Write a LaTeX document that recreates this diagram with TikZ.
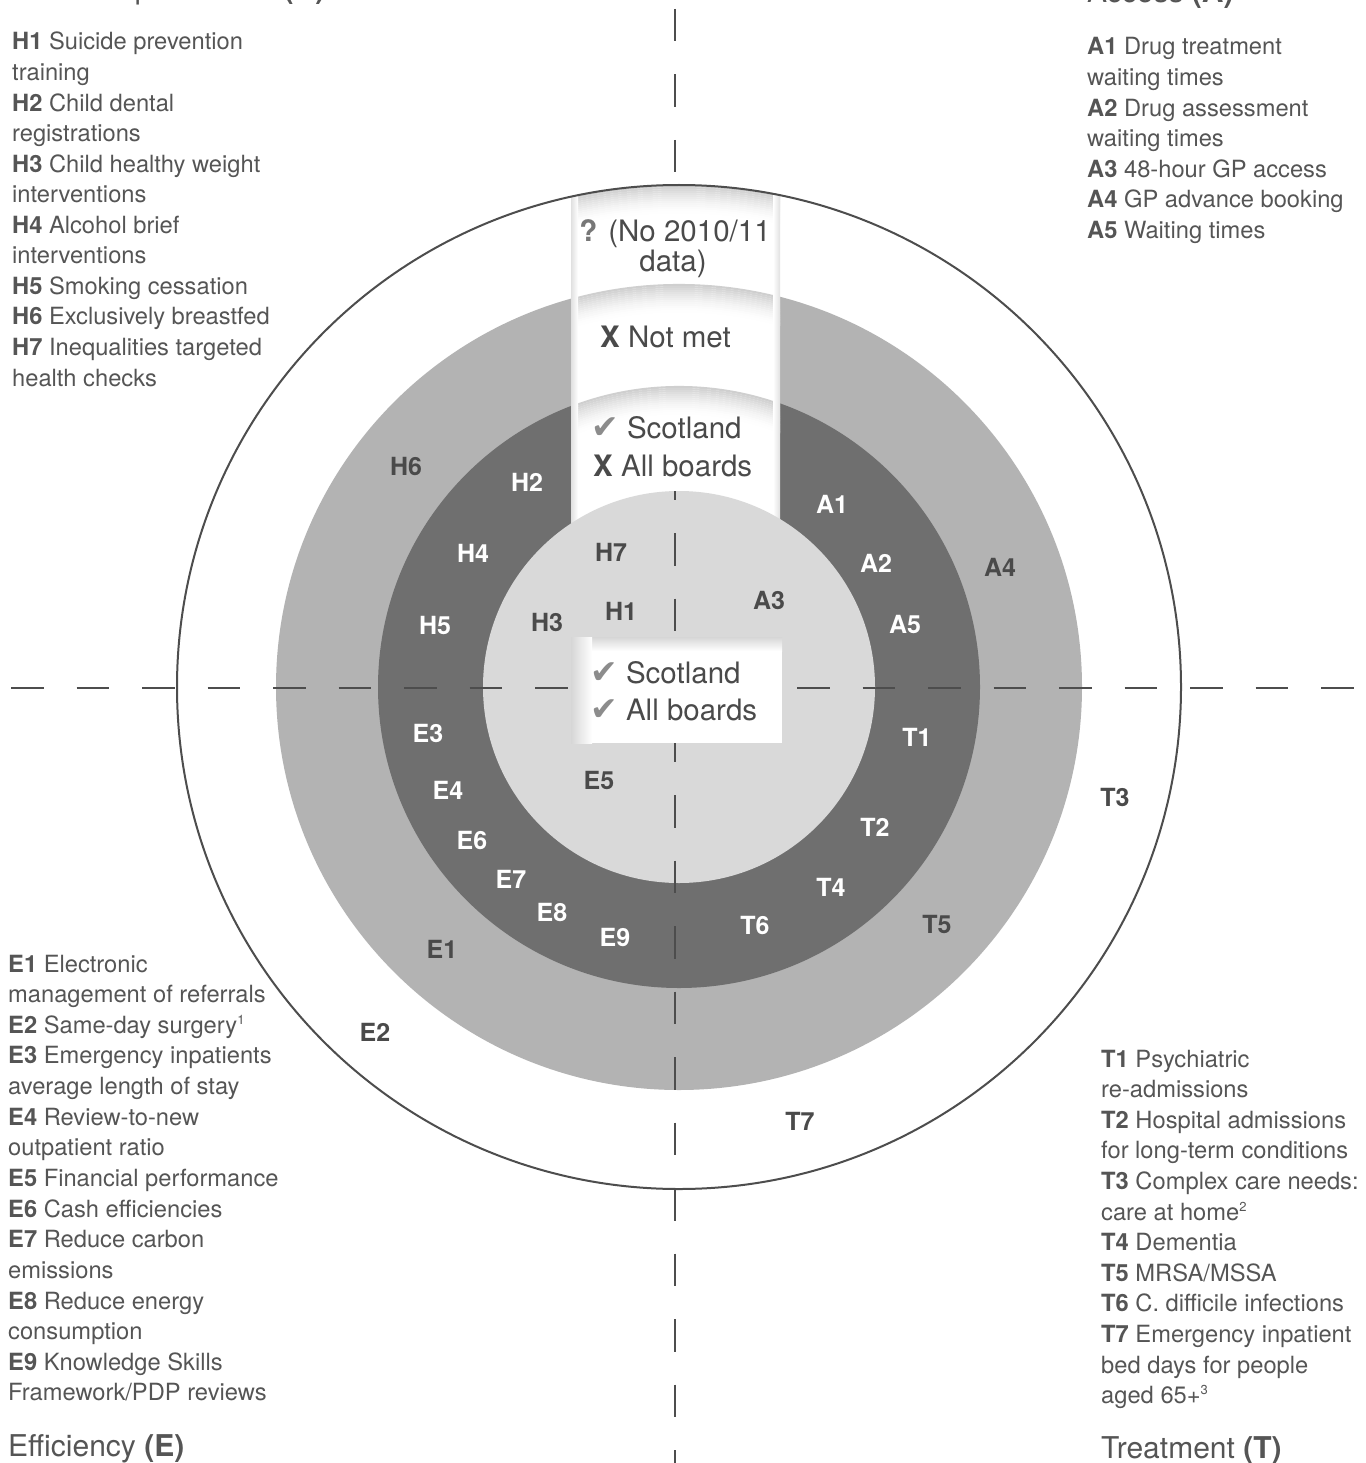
\documentclass[tikz,border=0pt]{standalone}
\usepackage{fontspec}
\setmainfont{TeX Gyre Heros}
\newfontfamily\symfont{DejaVu Sans}
\definecolor{txt}{HTML}{555555}
\definecolor{lab}{HTML}{4A4A4A}
\definecolor{ringA}{HTML}{B3B3B3}
\definecolor{ringB}{HTML}{6F6F6F}
\definecolor{core}{HTML}{D9D9D9}
\definecolor{chk}{HTML}{8C8C8C}
\definecolor{qm}{HTML}{777777}
\definecolor{linec}{HTML}{4D4D4D}
\newcommand\supn[1]{\raisebox{9pt}{\fontsize{13}{13}\selectfont #1}}
\newcommand\chkm{{\symfont\fontsize{33}{34}\selectfont\color{chk}✔}}
\begin{document}
\begin{tikzpicture}[x=1pt,y=-1pt,
  body/.style={font=\fontsize{23.7}{30}\selectfont, text=txt, inner sep=0pt, anchor=base west},
  ttl/.style={font=\fontsize{30}{36}\selectfont, text=txt, inner sep=0pt, anchor=base west},
  dlab/.style={font=\fontsize{25}{25}\selectfont\bfseries, text=lab, inner sep=0pt},
  wlab/.style={dlab, text=white},
  stxt/.style={font=\fontsize{29.5}{34}\selectfont, text=lab, inner sep=0pt},
  dashline/.style={draw=linec, line width=2.6pt, dash pattern=on 32.5pt off 33pt},
]
\useasboundingbox (0,0) rectangle (1365,1463);
\coordinate (c) at (679,687);
\coordinate (hl) at (11,688);
\coordinate (hr) at (1365,688);
\coordinate (vt) at (675,9);
\coordinate (vb) at (675,1463);

% discs
\fill[white] (c) circle[radius=502pt];
\fill[ringA] (c) circle[radius=403pt];
\fill[ringB] (c) circle[radius=301pt];

% dashed axes
\draw[dashline] (hl) -- (hr);
\draw[dashline] (vt) -- (vb);

% white strip with shadows
\begin{scope}
  \clip (571,100) rectangle (780,700);
  \clip (c) circle[radius=502pt];
  \fill[white] (571,100) rectangle (780,700);
  \foreach \R in {502,403,301} {
    \foreach \k in {0,...,13} {
      \pgfmathsetmacro\cc{19*(1-\k/14)^1.6}
      \draw[line width=2.1pt, draw=black!\cc] (c) circle[radius={(\R-1-2*\k)*1pt}];
    }
  }
  \shade[left color=black!12, right color=white] (571,100) rectangle (578,700);
  \shade[left color=white, right color=black!12] (773,100) rectangle (780,700);
\end{scope}

% inner disc
\fill[core] (c) circle[radius=196pt];
\begin{scope}
  \clip (c) circle[radius=196pt];
  \draw[dashline] (hl) -- (hr);
  \draw[dashline] (vt) -- (vb);
\end{scope}

% bottom box
\fill[white] (571,637) rectangle (782,743);
\shade[top color=black!16, bottom color=white] (571,637) rectangle (782,651);
\shade[left color=black!16, right color=white] (571,637) rectangle (592,743);

% outer outline
\draw[draw=linec, line width=2pt] (c) circle[radius=502pt];

% strip texts
\node[stxt, anchor=base] (q1) at (675,241) {{\color{qm}\textbf{?}} (No 2010/11};
\node[stxt, anchor=base] (q2) at (673,272) {data)};
\node[stxt, anchor=base west] (nm) at (600,347) {\textbf{X} Not met};
\node[stxt, anchor=base west] (s1) at (591,438) {\chkm\ Scotland};
\node[stxt, anchor=base west] (s2) at (593,476) {\textbf{X} All boards};
\node[stxt, anchor=base west] (b1) at (590,683) {\chkm\ Scotland};
\node[stxt, anchor=base west] (b2) at (590,720) {\chkm\ All boards};

% ring labels
\node[dlab] (lH6) at (406,466) {H6};
\node[wlab] (lH2) at (527,482) {H2};
\node[wlab] (lH4) at (473,553) {H4};
\node[wlab] (lH5) at (435,625) {H5};
\node[dlab] (lH3) at (547,622) {H3};
\node[dlab] (lH7) at (611,552) {H7};
\node[dlab] (lH1) at (621,611) {H1};
\node[wlab] (lA1) at (832,504) {A1};
\node[wlab] (lA2) at (876,563) {A2};
\node[wlab] (lA5) at (905,624) {A5};
\node[dlab] (lA4) at (1000,567) {A4};
\node[dlab] (lA3) at (769,600) {A3};
\node[wlab] (lE3) at (428,733) {E3};
\node[wlab] (lE4) at (448,790) {E4};
\node[wlab] (lE6) at (472,840) {E6};
\node[wlab] (lE7) at (511,879) {E7};
\node[wlab] (lE8) at (552,912) {E8};
\node[wlab] (lE9) at (615,937) {E9};
\node[dlab] (lE5) at (599,780) {E5};
\node[dlab] (lE1) at (442,949) {E1};
\node[dlab] (lE2) at (375,1032) {E2};
\node[wlab] (lT1) at (917,737) {T1};
\node[wlab] (lT2) at (875,827) {T2};
\node[wlab] (lT4) at (831,887) {T4};
\node[wlab] (lT6) at (755,925) {T6};
\node[dlab] (lT5) at (937,924) {T5};
\node[dlab] (lT3) at (1115,797) {T3};
\node[dlab] (lT7) at (800,1121) {T7};

% text blocks
\foreach \t [count=\i] in {
  {\textbf{H1} Suicide prevention}, {training},
  {\textbf{H2} Child dental}, {registrations},
  {\textbf{H3} Child healthy weight}, {interventions},
  {\textbf{H4} Alcohol brief}, {interventions},
  {\textbf{H5} Smoking cessation},
  {\textbf{H6} Exclusively breastfed},
  {\textbf{H7} Inequalities targeted}, {health checks}}
  \node[body, name=hx\i] at (12,{50+30.55*(\i-1)}) {\t};

\foreach \t [count=\i] in {
  {\textbf{A1} Drug treatment}, {waiting times},
  {\textbf{A2} Drug assessment}, {waiting times},
  {\textbf{A3} 48-hour GP access},
  {\textbf{A4} GP advance booking},
  {\textbf{A5} Waiting times}}
  \node[body, name=ax\i] at (1087,{55+30.55*(\i-1)}) {\t};

\foreach \t [count=\i] in {
  {\textbf{E1} Electronic}, {management of referrals},
  {\textbf{E2} Same-day surgery\supn{1}},
  {\textbf{E3} Emergency inpatients}, {average length of stay},
  {\textbf{E4} Review-to-new}, {outpatient ratio},
  {\textbf{E5} Financial performance},
  {\textbf{E6} Cash efficiencies},
  {\textbf{E7} Reduce carbon}, {emissions},
  {\textbf{E8} Reduce energy}, {consumption},
  {\textbf{E9} Knowledge Skills}, {Framework/PDP reviews}}
  \node[body, name=ex\i] at (8,{972+30.64*(\i-1)}) {\t};

\foreach \t [count=\i] in {
  {\textbf{T1} Psychiatric}, {re-admissions},
  {\textbf{T2} Hospital admissions}, {for long-term conditions},
  {\textbf{T3} Complex care needs:}, {care at home\supn{2}},
  {\textbf{T4} Dementia},
  {\textbf{T5} MRSA/MSSA},
  {\textbf{T6} C. difficile infections},
  {\textbf{T7} Emergency inpatient}, {bed days for people},
  {aged 65+\supn{3}}}
  \node[body, name=tx\i] at (1101,{1067+30.6*(\i-1)}) {\t};

% titles
\node[ttl] (tH) at (8,-1) {Health improvement \textbf{(H)}};
\node[ttl] (tA) at (1087,3) {Access \textbf{(A)}};
\node[ttl] (tE) at (8,1456) {Efficiency \textbf{(E)}};
\node[ttl] (tT) at (1101,1458) {Treatment \textbf{(T)}};
\end{tikzpicture}
\end{document}
